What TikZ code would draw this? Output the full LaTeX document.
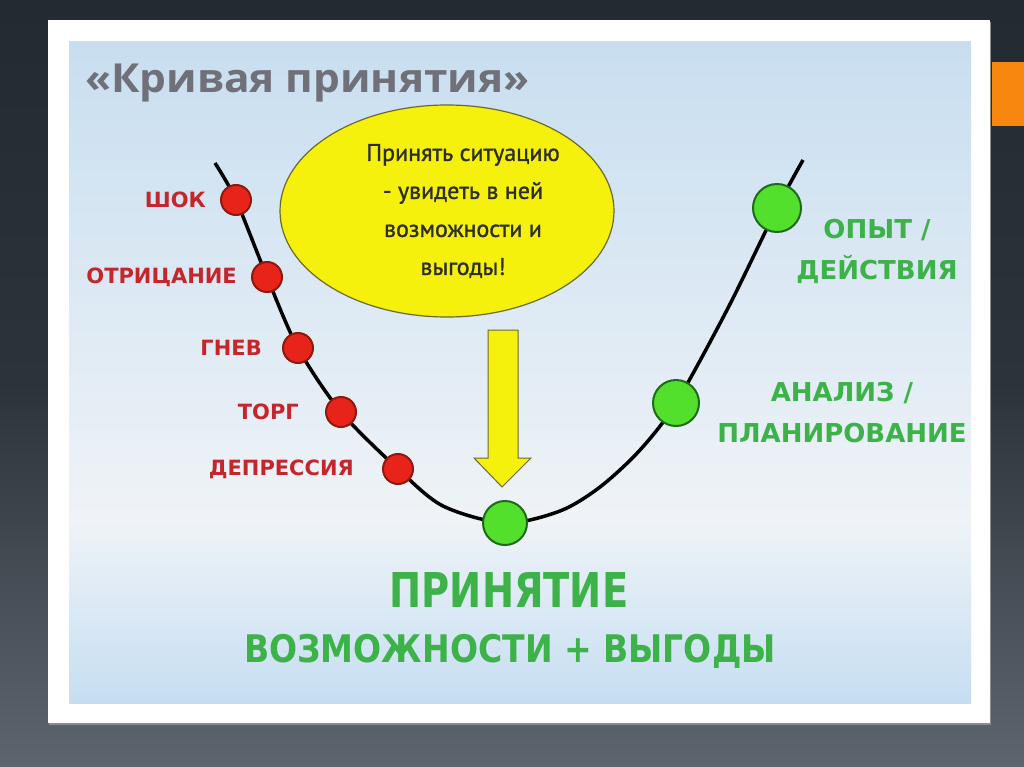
\documentclass[tikz,border=0pt]{standalone}
\usepackage{fontspec}
\setmainfont{PT Sans}
\newfontfamily\ideafont{PT Sans}[FakeBold=1.2]
\newfontfamily\titlefont{Open Sans}[FakeStretch=1.06]
\newfontfamily\labelfont{DejaVu Sans}
\newfontfamily\bigfont{DejaVu Sans}[FakeStretch=0.8]
\newfontfamily\widefont{DejaVu Sans}[FakeStretch=0.87]
\usetikzlibrary{positioning, shapes.geometric}

\definecolor{slidetop}{HTML}{232A31}
\definecolor{slidemid}{HTML}{2C333A}
\definecolor{slidebot}{HTML}{5D666F}
\definecolor{paneltop}{HTML}{C8DEF0}
\definecolor{panelmid}{HTML}{EFF3F7}
\definecolor{panelbot}{HTML}{C6DEF2}
\definecolor{accent}{HTML}{F7870F}
\definecolor{titlegray}{HTML}{707079}
\definecolor{ideayellow}{HTML}{F5F00C}
\definecolor{idealine}{HTML}{6A6A30}
\definecolor{ideatext}{HTML}{2E2E26}
\definecolor{dotred}{HTML}{E8231A}
\definecolor{dotredline}{HTML}{8B1A10}
\definecolor{dotgreen}{HTML}{52E02C}
\definecolor{dotgreenline}{HTML}{1F6A1A}
\definecolor{labelred}{HTML}{C4262C}
\definecolor{labelgreen}{HTML}{3DB249}

\begin{document}
\begin{tikzpicture}[x=1pt,y=-1pt,
  dot/.style={circle,draw,line width=2pt,inner sep=0pt},
  bad/.style={dot,fill=dotred,draw=dotredline,minimum size=30pt},
  good/.style={dot,fill=dotgreen,draw=dotgreenline,minimum size=46pt},
  badtext/.style={inner sep=0pt,text=labelred,
    font=\labelfont\bfseries\fontsize{21}{21}\selectfont},
  goodtext/.style={inner sep=0pt,text=labelgreen,align=center,
    font=\labelfont\bfseries\fontsize{26}{41}\selectfont}]
  \useasboundingbox (0,0) rectangle (1024,767);
  % slide and frame
  \shade[top color=slidetop,bottom color=slidebot,middle color=slidemid]
    (0,0) rectangle (1024,767);
  \fill[accent] (992,62) rectangle (1024,126);
  \fill[black!45] (49,22) rectangle (991,725);
  \fill[white] (48,20) rectangle (990,723);
  \shade[top color=paneltop,bottom color=panelmid] (69,42) rectangle (971,520);
  \shade[top color=panelmid,bottom color=panelbot] (69,520) rectangle (971,703);

  \node[anchor=base west,inner sep=0pt,text=titlegray,
    font=\titlefont\bfseries\fontsize{40}{40}\selectfont] (title) at (85,93)
    {«Кривая принятия»};

  % the curve
  \coordinate (top) at (215,163);
  \coordinate (shok) at (236,200);
  \coordinate (otric) at (267,277);
  \coordinate (gnev) at (298,348);
  \coordinate (torg) at (341,412);
  \coordinate (depr) at (398,469);
  \coordinate (low) at (443,506);
  \coordinate (prin) at (505,523);
  \coordinate (rise) at (600,487);
  \coordinate (analiz) at (676,403);
  \coordinate (opyt) at (777,208);
  \coordinate (end) at (803,160);
  \draw[line width=3.5pt] plot[smooth] coordinates
    {(top) (shok) (otric) (gnev) (torg) (depr) (low) (prin) (560,511) (rise)
     (640,450) (analiz) (728,308) (opyt) (end)};

  \node[bad] (shokdot) at (shok) {};
  \node[bad] (otricdot) at (otric) {};
  \node[bad] (gnevdot) at (gnev) {};
  \node[bad] (torgdot) at (torg) {};
  \node[bad] (deprdot) at (depr) {};
  \node[good,minimum size=44pt] (prindot) at (prin) {};
  \node[good] (analizdot) at (analiz) {};
  \node[good,minimum size=48pt] (opytdot) at (opyt) {};

  \node[badtext,left=14pt of shokdot] (shoktext) {ШОК};
  \node[badtext,left=14pt of otricdot] (otrictext) {ОТРИЦАНИЕ};
  \node[badtext,left=20pt of gnevdot] (gnevtext) {ГНЕВ};
  \node[badtext,left=26pt of torgdot] (torgtext) {ТОРГ};
  \node[badtext,left=28pt of deprdot] (deprtext) {ДЕПРЕССИЯ};

  \node[goodtext] (opyttext) at (877,251) {ОПЫТ /\\ДЕЙСТВИЯ};
  \node[goodtext] (analiztext) at (842,413) {АНАЛИЗ /\\ПЛАНИРОВАНИЕ};

  % idea and arrow
  \node[ellipse,draw=idealine,fill=ideayellow,line width=1.2pt,
    minimum width=334pt,minimum height=212pt] (idea) at (447,211) {};
  \node[align=center,text=ideatext,inner sep=0pt,
    font=\ideafont\fontsize{24}{38}\selectfont,xshift=16pt] (ideatext) at (idea)
    {Принять ситуацию\\- увидеть в ней\\возможности и\\выгоды!};
  \draw[fill=ideayellow,draw=idealine,line width=1pt]
    (488,330) -- (518,330) -- (518,458) -- (531,458) -- (502,487)
    -- (474,458) -- (488,458) -- cycle;

  \node[inner sep=0pt,text=labelgreen,
    font=\bigfont\bfseries\fontsize{48}{48}\selectfont] (accept) at (509,590) {ПРИНЯТИЕ};
  \node[inner sep=0pt,text=labelgreen,
    font=\widefont\bfseries\fontsize{38}{38}\selectfont] (gains) at (510,651)
    {ВОЗМОЖНОСТИ + ВЫГОДЫ};
\end{tikzpicture}
\end{document}
